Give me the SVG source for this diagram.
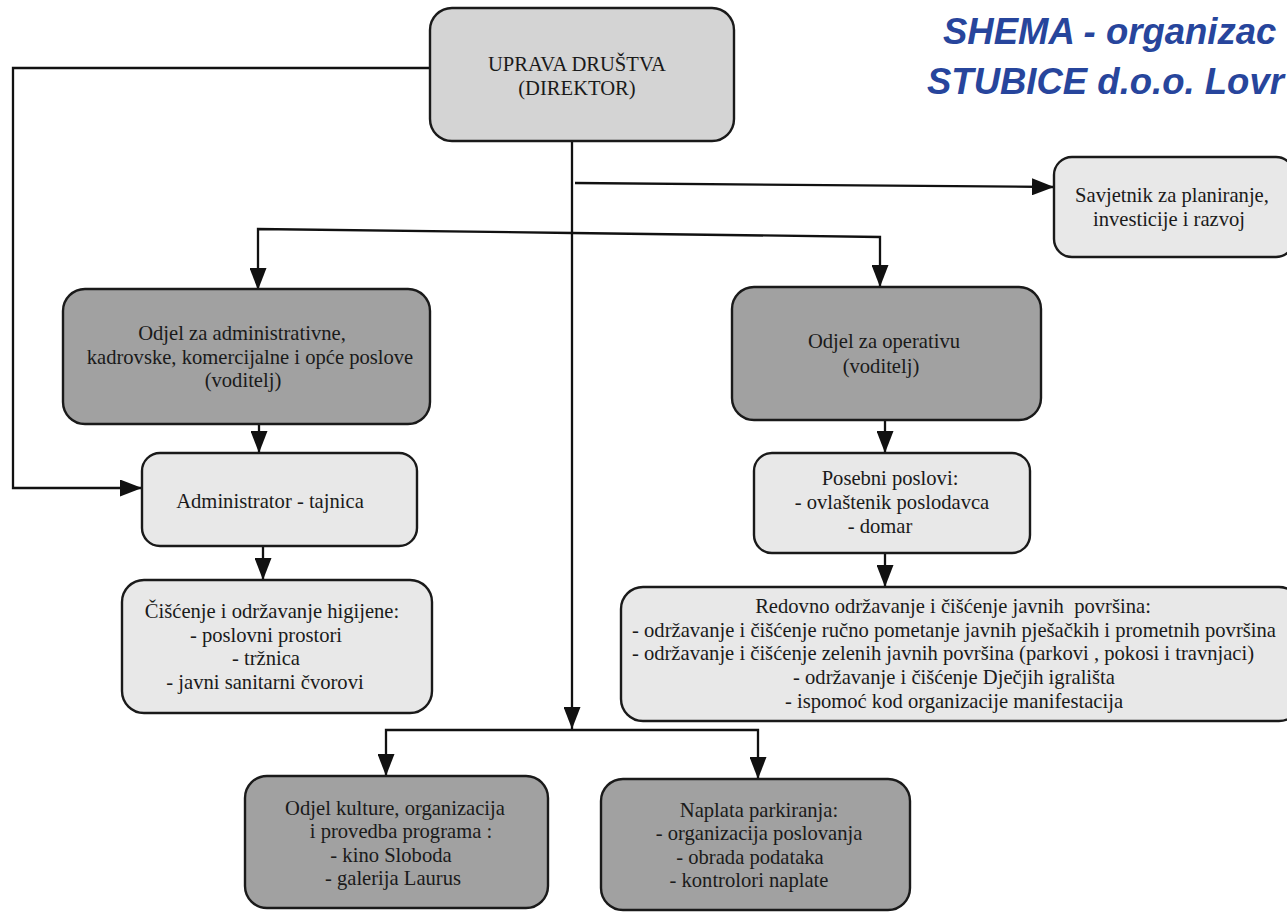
<svg xmlns="http://www.w3.org/2000/svg" width="1287" height="912" viewBox="0 0 1287 912">
<style>
.box{stroke:#1a1a1a;stroke-width:2.4}
.top{fill:#d4d4d4}
.dark{fill:#a1a1a1}
.light{fill:#e8e8e8}
.t{font-family:"Liberation Serif","Times New Roman",serif;font-size:20.6px;fill:#1a1a1a;text-anchor:middle}
.title{font-family:"Liberation Sans",Arial,sans-serif;font-size:36.5px;font-weight:bold;font-style:italic;fill:#27459c}
.c{fill:none;stroke:#111;stroke-width:2.3}
</style>
<defs>
<marker id="ah" viewBox="0 0 22 17" refX="22" refY="8.5" markerWidth="22" markerHeight="17" markerUnits="userSpaceOnUse" orient="auto">
<path d="M0,0 L22,8.5 L0,17 Z" fill="#111"/>
</marker>
</defs>
<rect width="1287" height="912" fill="#ffffff"/>
<g id="title">
<text class="title" x="943" y="44">SHEMA - organizac</text>
<text class="title" x="927" y="94">STUBICE d.o.o. Lovr</text>
</g>
<g id="connectors">
<path class="c" d="M430,68 H13 V488 H142" marker-end="url(#ah)"/>
<path class="c" d="M572,141 V729" marker-end="url(#ah)"/>
<path class="c" d="M575,183 L1054,187" marker-end="url(#ah)"/>
<path class="c" d="M572,233 L258,229 V290" marker-end="url(#ah)"/>
<path class="c" d="M572,233 L880,237 V287" marker-end="url(#ah)"/>
<path class="c" d="M259,424 V453" marker-end="url(#ah)"/>
<path class="c" d="M263,546 V580" marker-end="url(#ah)"/>
<path class="c" d="M885,420 V453" marker-end="url(#ah)"/>
<path class="c" d="M885,553 V587" marker-end="url(#ah)"/>
<path class="c" d="M572,730 H386 V776" marker-end="url(#ah)"/>
<path class="c" d="M572,730 H758 V779" marker-end="url(#ah)"/>
</g>
<g id="uprava">
<rect class="box top" x="430" y="8" width="304" height="133" rx="22"/>
<text class="t" x="577" y="71"><tspan x="577">UPRAVA DRUŠTVA</tspan><tspan x="577" dy="24">(DIREKTOR)</tspan></text>
</g>
<g id="savjetnik">
<rect class="box light" x="1054" y="157" width="240" height="100" rx="18"/>
<text class="t" x="1171" y="202"><tspan x="1172">Savjetnik za planiranje,</tspan><tspan x="1169" dy="24">investicije i razvoj</tspan></text>
</g>
<g id="odjel-admin">
<rect class="box dark" x="63" y="289" width="367" height="135" rx="22"/>
<text class="t" x="242" y="340"><tspan x="242">Odjel za administrativne,</tspan><tspan x="250" dy="23.5">kadrovske, komercijalne i opće poslove</tspan><tspan x="243" dy="23.5">(voditelj)</tspan></text>
</g>
<g id="administrator">
<rect class="box light" x="142" y="453" width="275" height="93" rx="18"/>
<text class="t" x="270" y="508">Administrator - tajnica</text>
</g>
<g id="ciscenje">
<rect class="box light" x="122" y="580" width="310" height="133" rx="22"/>
<text class="t" x="272" y="618"><tspan x="272">Čišćenje i održavanje higijene:</tspan><tspan x="266" dy="23.7">- poslovni prostori</tspan><tspan x="266" dy="23.7">- tržnica</tspan><tspan x="265" dy="23.7">- javni sanitarni čvorovi</tspan></text>
</g>
<g id="odjel-operativa">
<rect class="box dark" x="732" y="287" width="309" height="133" rx="22"/>
<text class="t" x="884" y="348"><tspan x="884">Odjel za operativu</tspan><tspan x="881" dy="25">(voditelj)</tspan></text>
</g>
<g id="posebni">
<rect class="box light" x="754" y="453" width="276" height="100" rx="18"/>
<text class="t" x="890" y="485"><tspan x="890">Posebni poslovi:</tspan><tspan x="892" dy="24">- ovlaštenik poslodavca</tspan><tspan x="880" dy="24">- domar</tspan></text>
</g>
<g id="redovno">
<rect class="box light" x="621" y="587" width="680" height="134" rx="22"/>
<text class="t" x="953" y="613"><tspan x="953" xml:space="preserve">Redovno održavanje i čišćenje javnih  površina:</tspan><tspan x="954" dy="23.7">- održavanje i čišćenje ručno pometanje javnih pješačkih i prometnih površina</tspan><tspan x="943" dy="23.7">- održavanje i čišćenje zelenih javnih površina (parkovi , pokosi i travnjaci)</tspan><tspan x="954" dy="23.7">- održavanje i čišćenje Dječjih igrališta</tspan><tspan x="954" dy="23.7">- ispomoć kod organizacije manifestacija</tspan></text>
</g>
<g id="kultura">
<rect class="box dark" x="245" y="776" width="303" height="132" rx="22"/>
<text class="t" x="395" y="815"><tspan x="395">Odjel kulture, organizacija</tspan><tspan x="401" dy="23.3">i provedba programa :</tspan><tspan x="391" dy="23.3">- kino Sloboda</tspan><tspan x="393" dy="23.3">- galerija Laurus</tspan></text>
</g>
<g id="naplata">
<rect class="box dark" x="601" y="779" width="309" height="131" rx="22"/>
<text class="t" x="759" y="817"><tspan x="759">Naplata parkiranja:</tspan><tspan x="759" dy="23.3">- organizacija poslovanja</tspan><tspan x="750" dy="23.3">- obrada podataka</tspan><tspan x="749" dy="23.3">- kontrolori naplate</tspan></text>
</g>
</svg>
